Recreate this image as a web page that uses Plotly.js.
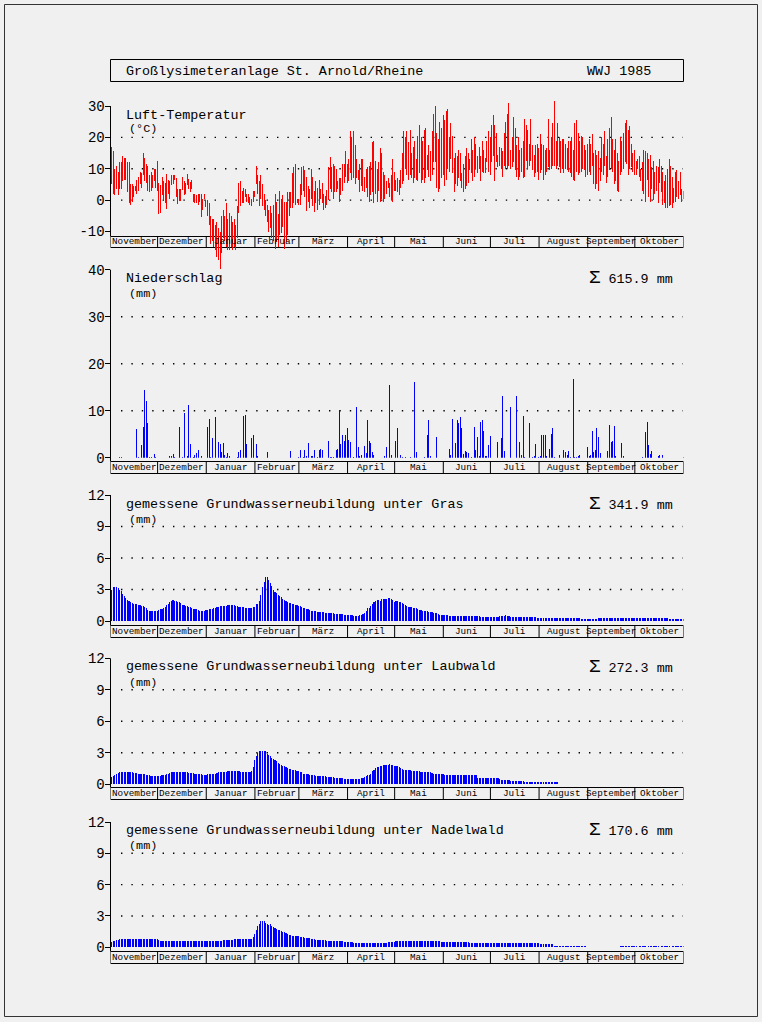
<!DOCTYPE html>
<html><head><meta charset="utf-8">
<script src="https://cdn.plot.ly/plotly-3.0.1.min.js"></script>
<style>html,body{margin:0;padding:0;background:#f0f0f0}</style>
</head><body><div id="chart" style="width:762px;height:1022px"></div>
<script>
// ---------------- DATA ----------------
const monthLabels = ['November','Dezember','Januar','Februar','März','April','Mai','Juni','Juli','August','September','Oktober'];
const monthDays = [30,31,31,28,31,30,31,30,31,31,30,31];

// daily max / min air temperature (°C), 1 Nov 1984 - 31 Oct 1985
const tmax = [
17,15.5,10,11,9,12,12,14,13.5,13.5,12,12,5,5,4.5,4.5,6.5,7.5,9,8.5,15,13.5,11.5,11,8,9,8,10,10,12.5,
5.5,4.8,7.5,6,5.5,8.2,6.4,6,8,8,8,7,3.7,3.7,3.7,7.5,6,5.5,8.3,6.7,5.7,6.4,2,2,1.5,2,1.8,1.8,0.5,1.8,0,
0,-1,-5,-6,-6,-8,-7,-9,-10,-5,-3,-5,-1,-6,-4,-5,-7,-6,-8,-2,5.5,6,3,4,3.5,2,2,1,0.5,3,3,
11,8,6,8,5,2,0,-1.5,-3,-2,-4,-1.5,2,-0.5,-4.5,3,0.5,1.5,-0.5,-0.5,2.5,2.5,2.5,8.5,10.5,11.5,0.5,0.5,
5,10.7,11,9.5,7.5,4.6,3.7,10,7.5,3,6,4,6.4,3.7,5.5,2,1.2,3.2,10.5,13.6,10.7,11.5,11,10,6,7,7,11.5,11.5,15.5,11.5,
13,22,20,22,17.5,13,9.5,11.5,13,13,7.5,10,10.5,11,12,18.5,19,12.5,10,12,16.5,15,9,8,6,7,5.5,8,13.2,9,
6.5,7,6.5,9.5,15,22,20,22,18.5,22.5,15,17,19,13,20.5,24,20,19,22.5,23,14.5,17.5,15.5,22,27.5,30,21.5,19.5,25,23,27,
25.5,28.5,29,20,24.5,20.5,13.5,15,14,16,15,8.5,11.5,14,16.5,15,13,19.5,16,20,18,14,17,14,19,16,13.5,19,22,20,
24,27,24,21.5,14.5,17,16.5,15.5,21.5,25,27.5,31,16,20,26.5,23,17.5,20,16,16.5,19,26,24,22.5,18,26,17.5,14.5,17.5,18,16.5,
21,18,17.5,16,16.5,26,16,20,24.5,31.5,19,24.5,20,19,19.5,19.5,18,16.5,19,19,20,16,24.5,25.5,21.5,19,20.5,20,17.5,16,18,
19.5,18,21,15,16,14.5,15.5,13.5,20,18,22,14,19.5,23,26.5,19.5,16,19.5,15,12.5,20,19,21.5,24.5,25.5,22.5,23.5,18,15,16,
12.5,13,14,10,12,16,15.5,15,13,14.5,10.5,12.5,9,11,10.5,13,11,9,6,8,10,13,11,7.5,4,9,9.5,6,9,3.5,3
];
const tmin = [
5,2,1.5,3.5,1.5,3.5,3.5,6,6.5,6.5,2.5,-1,-1.5,-0.5,1,3,2,3,5,4,8,6,5.5,3,2.5,3,4,6,4,3,
-4.3,-4.2,1.6,0,-1,-2.7,1.8,0.3,4.8,5.3,6.5,1,-1.1,-0.3,-0.3,3.2,1.6,2,4.8,3.7,2.7,3.7,-0.5,-1,-1,-1.6,-0.5,-5.3,-3.2,0.5,-2.1,
-5,-8,-14,-13,-15,-16,-18,-19,-22,-17,-12,-13,-15,-16,-16,-15,-16,-15,-16,-12,-4,-2,-1,-1,1,-0.5,-1,-1.5,-2,-0.5,1,
5,2,-2,0.5,-2,-3,-5,-7,-10,-9,-12,-13,-15.5,-13.5,-15,-11,-10.5,-8.5,-15.5,-13.5,-11,-5,-2.5,-2.5,-1,-1.5,-1,-1.5,
-1.6,1.5,3,1,-3.5,-0.5,-2.5,0.5,-2,-3.7,-1,-3,-1.5,0.5,-1,-3,-2.5,-1.7,0,3.5,2.5,0.5,2.5,2.5,3.5,-0.5,1.5,3,5.5,7.5,5.5,
6,8.5,6.5,7,5,7,6.5,2.5,4.5,3,2.5,4,1,-0.5,1.5,2.5,-1,2,-0.5,3,-0.5,0.5,-0.5,0.5,2,4,1,0,-0.5,3,
3,2.5,1.5,4,5,6,10,8,6.5,8,7,5.5,7,6.5,6,8.5,5.5,6.5,5.5,7,9.5,7.5,6,8,12,12,4,2.5,3.5,7,8,
4.5,6.5,10,9,13,8.5,2.5,5,4.5,7,6,4,2.5,3.5,4.5,5.5,9.5,8.5,6,7.5,10,8.5,10,6,9,8.5,8.5,12,9,8,
12,14,6,12,10.5,11,10,7.5,11,10,10,11,10,10.5,12,9.5,7.5,6.5,7.5,9,7,7.5,12.5,10,11,12.5,9.5,7.5,8.5,9,6.5,
8.5,9.5,6.5,8,9,10.5,9.5,10,11,11,10,11,10.5,8.5,10,8.5,10,9.5,9,8.5,7.5,6.5,6,9,8,8.5,9,10,9.5,7.5,8,
9,8,11,5,3.5,5,3,6,9,8,11,5.5,7.5,9.5,10,9,5,6,3,2.5,8,9,10,12,11.5,8,10,10.5,9,8,
8,10,7.5,6,3,2,-0.5,6.5,1,-0.5,3.5,0,2,3,-1,5.5,2.5,-1.5,-1,-2.5,-2.5,-2,-1.5,-2.5,-1,-0.5,1,0.5,1.5,-0.5,0.5
];

// daily precipitation (mm): day index (0 = 1 Nov) and amount
const precipDay = [
3,5,6,7,16,17,19,20,21,22,23,24,25,27,28,
34,37,38,39,40,43,45,46,48,49,50,52,53,54,55,57,
61,62,63,64,66,68,69,70,71,72,73,74,75,80,81,82,84,85,86,89,90,
92,93,99,114,
119,120,122,123,124,125,127,128,129,131,132,133,134,138,139,140,141,143,144,145,146,147,148,149,150,
151,152,154,156,157,158,159,161,162,163,164,165,166,167,174,175,177,178,
181,182,184,185,187,190,193,194,199,201,202,203,207,
215,216,217,219,220,221,222,223,224,225,226,227,229,231,232,233,234,235,236,237,238,239,240,241,
246,248,249,250,254,258,260,261,262,263,266,268,269,270,272,
273,274,275,276,277,279,280,281,282,285,288,289,290,291,292,294,295,296,297,298,
303,304,305,306,307,308,309,310,311,316,317,318,319,320,321,325,326,
338,340,341,342,343,344,348,349,351,364
];
const precipMm = [
0.1,0.2,0.2,0.1,6.1,0.3,2.7,6.5,14.5,12.2,7.5,0.3,0.2,0.8,0.2,
0.1,0.5,0.4,0.8,0.2,6.5,0.3,9.6,0.5,11.3,2.9,0.2,0.6,1.0,1.6,0.4,
6.5,8.2,0.3,4.2,8.8,3.5,2.9,1.2,3.1,0.7,0.3,1.0,0.4,0.2,1.2,1.6,9.0,9.2,2.9,4.2,4.8,
2.9,0.5,1.2,1.4,
0.3,1.6,0.3,1.8,0.4,3.1,0.4,0.5,1.8,0.3,1.6,2.0,1.8,3.7,0.3,0.3,0.3,1.8,2.0,10.3,2.9,5.0,3.7,4.8,6.3,
3.8,3.5,0.2,10.9,2.3,0.5,0.6,2.5,1.0,8.0,3.7,3.1,1.2,0.7,0.4,2.3,15.6,0.7,
3.7,6.3,0.6,0.3,0.3,0.3,16.2,1.2,0.3,5.0,8.0,0.5,4.4,
2.0,0.6,8.4,3.1,8.0,7.5,8.8,6.3,0.9,1.4,1.3,1.0,0.2,6.7,1.8,4.4,0.5,7.7,8.0,5.8,0.5,0.5,2.7,4.6,
3.3,4.2,13.2,1.4,10.9,13.2,3.5,0.7,9.0,0.3,7.5,0.3,0.5,2.9,0.3,
0.5,5.0,4.8,4.8,0.4,2.0,5.2,6.3,0.3,0.7,1.8,1.2,0.6,1.4,0.3,16.8,0.3,0.2,0.5,0.7,
2.3,0.4,0.6,5.8,1.2,1.8,6.3,4.4,1.0,1.4,7.1,3.5,3.7,6.9,0.4,3.1,0.4,
0.3,5.6,7.7,2.7,0.8,1.4,0.4,0.7,0.7,0.3
];

// daily measured groundwater recharge (mm)
const gwGras = [
3.0,3.2,3.25,3.2,3.1,3.0,2.9,2.6,2.4,2.2,2.0,1.9,1.8,1.7,1.65,1.6,1.6,1.55,1.5,1.45,1.4,1.3,1.2,1.05,1.0,1.0,1.0,1.0,1.0,0.95,
1.05,1.1,1.15,1.2,1.35,1.5,1.65,1.8,1.95,2.0,1.95,1.9,1.85,1.8,1.7,1.55,1.5,1.45,1.4,1.35,1.3,1.2,1.15,1.1,1.1,1.05,1.0,1.0,0.95,1.0,1.05,
1.05,1.1,1.1,1.15,1.2,1.25,1.3,1.35,1.4,1.4,1.45,1.45,1.45,1.5,1.5,1.5,1.55,1.5,1.45,1.45,1.35,1.3,1.3,1.3,1.25,1.2,1.2,1.25,1.25,1.3,1.35,
1.6,1.6,1.9,2.5,3.2,3.7,4.2,4.2,3.9,3.6,3.3,3.0,2.8,2.65,2.5,2.35,2.25,2.1,2.0,1.9,1.85,1.75,1.7,1.65,1.6,1.55,1.5,1.45,
1.4,1.35,1.25,1.2,1.15,1.1,1.05,1.0,1.0,0.95,0.95,0.9,0.9,0.85,0.85,0.85,0.8,0.8,0.8,0.75,0.75,0.75,0.7,0.7,0.7,0.65,0.65,0.65,0.6,0.6,0.6,
0.55,0.55,0.55,0.5,0.5,0.5,0.5,0.55,0.6,0.65,0.8,1.0,1.2,1.25,1.4,1.6,1.8,1.9,2.0,2.0,1.95,2.05,2.1,2.1,2.1,2.15,2.2,2.1,2.0,1.85,
1.9,1.9,1.85,1.8,1.7,1.6,1.5,1.4,1.35,1.3,1.3,1.25,1.2,1.2,1.15,1.05,1.05,1.0,1.0,0.95,0.95,0.9,0.85,0.85,0.8,0.8,0.75,0.7,0.6,0.6,0.55,
0.55,0.55,0.55,0.5,0.5,0.5,0.5,0.5,0.5,0.5,0.5,0.5,0.5,0.5,0.5,0.45,0.45,0.45,0.45,0.45,0.45,0.45,0.45,0.4,0.4,0.4,0.4,0.4,0.4,0.4,
0.4,0.4,0.4,0.4,0.4,0.45,0.45,0.5,0.5,0.55,0.5,0.45,0.4,0.35,0.35,0.35,0.35,0.35,0.35,0.35,0.35,0.35,0.35,0.35,0.35,0.35,0.35,0.35,0.35,0.3,0.3,
0.3,0.3,0.3,0.3,0.3,0.3,0.3,0.3,0.3,0.3,0.3,0.3,0.3,0.3,0.3,0.3,0.3,0.3,0.3,0.3,0.3,0.3,0.3,0.3,0.3,0.3,0.2,0.2,0.2,0.2,0.2,
0.2,0.2,0.2,0.2,0.2,0.2,0.25,0.25,0.25,0.25,0.25,0.25,0.25,0.25,0.25,0.25,0.25,0.25,0.25,0.25,0.25,0.25,0.25,0.25,0.25,0.25,0.25,0.25,0.25,0.25,
0.25,0.25,0.25,0.25,0.25,0.25,0.3,0.3,0.3,0.3,0.3,0.3,0.3,0.3,0.3,0.3,0.3,0.3,0.3,0.3,0.3,0.2,0.2,0.2,0.2,0.2,0.2,0.2,0.2,0.2,0.2
];
const gwLaub = [
0.7,0.8,0.9,1.0,1.05,1.1,1.15,1.15,1.15,1.15,1.15,1.1,1.1,1.1,1.05,1.05,1.05,1.0,1.0,1.0,0.95,0.95,0.9,0.9,0.85,0.8,0.8,0.8,0.8,0.8,
0.8,0.8,0.85,0.85,0.9,0.95,1.0,1.05,1.1,1.1,1.1,1.1,1.1,1.1,1.1,1.1,1.1,1.1,1.1,1.05,1.05,1.05,1.05,1.0,1.0,1.0,0.95,0.95,0.9,0.9,0.9,
0.95,0.95,0.95,0.95,1.0,1.0,1.05,1.1,1.1,1.1,1.15,1.15,1.15,1.2,1.2,1.2,1.2,1.2,1.2,1.2,1.2,1.15,1.15,1.15,1.15,1.15,1.15,1.15,1.2,1.6,2.3,
2.7,2.95,3.1,3.15,3.15,3.15,3.1,2.9,2.8,2.7,2.5,2.4,2.3,2.15,2.0,1.9,1.8,1.75,1.7,1.6,1.5,1.45,1.4,1.35,1.3,1.3,1.25,1.2,
1.15,1.1,1.0,1.0,0.95,0.95,0.9,0.9,0.85,0.85,0.8,0.8,0.8,0.8,0.75,0.75,0.75,0.7,0.7,0.65,0.65,0.65,0.6,0.6,0.6,0.55,0.55,0.55,0.5,0.5,0.5,
0.5,0.5,0.5,0.5,0.5,0.5,0.5,0.5,0.55,0.6,0.7,0.8,0.85,0.9,1.0,1.2,1.35,1.5,1.6,1.65,1.7,1.75,1.8,1.85,1.85,1.85,1.9,1.85,1.8,1.75,
1.75,1.7,1.6,1.5,1.4,1.35,1.35,1.3,1.3,1.3,1.25,1.25,1.25,1.25,1.2,1.2,1.15,1.1,1.1,1.1,1.1,1.1,1.1,1.05,1.0,1.0,1.0,1.0,1.0,0.95,0.95,
0.9,0.9,0.9,0.9,0.9,0.9,0.9,0.9,0.9,0.9,0.9,0.85,0.85,0.85,0.85,0.85,0.85,0.85,0.85,0.85,0.85,0.6,0.6,0.6,0.55,0.55,0.55,0.55,0.55,0.55,
0.55,0.55,0.55,0.55,0.55,0.5,0.4,0.4,0.4,0.4,0.4,0.4,0.3,0.3,0.3,0.3,0.3,0.3,0.3,0.3,0.25,0.2,0.2,0.2,0.2,0.2,0.2,0.2,0.2,0.2,0.2,
0.2,0.2,0.2,0.2,0.2,0.2,0.2,0.2,0.2,0.2,0.2,0.2,0,0,0,0,0,0,0,0,0,0,0,0,0,0,0,0,0,0,0,
0,0,0,0,0,0,0,0,0,0,0,0,0,0,0,0,0,0,0,0,0,0,0,0,0,0,0,0,0,0,
0,0,0,0,0,0,0,0,0,0,0,0,0,0,0,0,0,0,0,0,0,0,0,0,0,0,0,0,0,0,0
];
const gwNadel = [
0.5,0.6,0.65,0.7,0.7,0.75,0.75,0.8,0.8,0.8,0.8,0.8,0.8,0.8,0.8,0.8,0.8,0.8,0.8,0.8,0.8,0.8,0.8,0.75,0.75,0.75,0.75,0.75,0.75,0.75,
0.7,0.65,0.6,0.6,0.6,0.6,0.6,0.6,0.6,0.6,0.6,0.6,0.6,0.6,0.6,0.6,0.6,0.6,0.6,0.6,0.6,0.6,0.6,0.6,0.6,0.6,0.6,0.6,0.6,0.6,0.6,
0.6,0.6,0.6,0.6,0.6,0.6,0.6,0.6,0.6,0.65,0.7,0.7,0.7,0.7,0.7,0.7,0.7,0.75,0.8,0.8,0.8,0.8,0.8,0.8,0.8,0.8,0.8,0.8,0.8,1.0,1.3,
1.7,2.0,2.2,2.55,2.5,2.5,2.3,2.2,2.1,2.2,2.0,1.9,1.85,1.8,1.7,1.65,1.55,1.5,1.45,1.4,1.3,1.2,1.15,1.1,1.1,1.05,1.05,1.05,
1.0,0.95,0.95,0.9,0.9,0.85,0.85,0.8,0.75,0.75,0.7,0.7,0.7,0.7,0.7,0.7,0.7,0.65,0.6,0.6,0.6,0.6,0.6,0.6,0.6,0.6,0.6,0.6,0.55,0.55,0.55,
0.55,0.55,0.5,0.45,0.45,0.45,0.45,0.45,0.45,0.45,0.45,0.45,0.45,0.45,0.45,0.45,0.45,0.45,0.45,0.45,0.45,0.45,0.45,0.45,0.45,0.55,0.55,0.55,0.55,0.55,
0.6,0.6,0.6,0.65,0.65,0.65,0.65,0.65,0.65,0.65,0.65,0.65,0.65,0.65,0.65,0.65,0.6,0.6,0.6,0.6,0.6,0.6,0.6,0.6,0.6,0.6,0.6,0.6,0.6,0.5,0.5,
0.5,0.5,0.5,0.5,0.5,0.5,0.5,0.5,0.5,0.5,0.5,0.5,0.5,0.5,0.5,0.5,0.45,0.45,0.45,0.45,0.45,0.45,0.45,0.45,0.45,0.45,0.45,0.45,0.45,0.45,
0.45,0.45,0.4,0.4,0.4,0.4,0.4,0.4,0.4,0.4,0.4,0.4,0.4,0.4,0.4,0.4,0.4,0.4,0.4,0.4,0.4,0.4,0.4,0.4,0.4,0.4,0.4,0.4,0.4,0.4,0.4,
0.3,0.3,0.3,0.3,0.3,0.3,0.3,0.3,0.3,0.1,0.1,0.1,0.1,0.1,0.1,0.1,0.1,0.1,0.1,0.1,0.1,0.1,0.1,0.1,0.1,0.1,0.1,0.1,0.1,0.1,0,
0,0,0,0,0,0,0,0,0,0,0,0,0,0,0,0,0,0,0,0,0.1,0.1,0.1,0.1,0.1,0.1,0.1,0.1,0.1,0.1,
0.1,0,0.1,0.1,0.1,0.1,0.1,0,0.1,0.1,0.1,0.1,0.1,0.1,0.1,0,0.1,0.1,0.1,0.1,0.1,0.1,0,0.1,0.1,0.1,0.1,0.1,0.1,0.1,0.1
];

const titleText = 'Großlysimeteranlage St. Arnold/Rheine';
const yearText = 'WWJ 1985';
const panelTitles = ['Luft-Temperatur','Niederschlag','gemessene Grundwasserneubildung unter Gras','gemessene Grundwasserneubildung unter Laubwald','gemessene Grundwasserneubildung unter Nadelwald'];
const panelUnits = ['(°C)','(mm)','(mm)','(mm)','(mm)'];
const panelSums = [null,'615.9','341.9','272.3','170.6'];
const tempTicks = [-10,0,10,20,30];
const precipTicks = [0,10,20,30,40];
const gwTicks = [0,3,6,9,12];

// ---------------- LAYOUT GEOMETRY ----------------
const FONT = 'Liberation Mono, DejaVu Sans Mono, monospace';
const W = 762, H = 1022;
const px = v => v / W, py = v => 1 - v / H;
const X0 = 110.5, X1 = 683.5;
const nDays = monthDays.reduce((a,b)=>a+b,0);
const dayX = tmax.map((_, i) => i + 0.5);

const panels = [
  {ax:'y',  ticks:tempTicks,   vTop:30, vBot:-10, pTop:106.0, pBot:231.5, dTop:97,  dBot:276, grid:[0,10,20], strip:[236.5,247.5], titleY:115.5, unitY:129.5, sumY:null},
  {ax:'y2', ticks:precipTicks, vTop:40, vBot:0,   pTop:269.7, pBot:457.7, dTop:269.7, dBot:457.7, grid:[10,20,30], strip:[461.5,473.5], titleY:278.5, unitY:293.5, sumY:277.5},
  {ax:'y3', ticks:gwTicks,     vTop:12, vBot:0,   pTop:495.0, pBot:621.0, dTop:495.0, dBot:621.0, grid:[3,6,9], strip:[625.5,637.5], titleY:505, unitY:519.5, sumY:504.5},
  {ax:'y4', ticks:gwTicks,     vTop:12, vBot:0,   pTop:658.3, pBot:784.3, dTop:658.3, dBot:784.3, grid:[3,6,9], strip:[787.5,799.5], titleY:666.5, unitY:682.5, sumY:666.5},
  {ax:'y5', ticks:gwTicks,     vTop:12, vBot:0,   pTop:822.0, pBot:947.3, dTop:822.0, dBot:947.3, grid:[3,6,9], strip:[951.5,963.5], titleY:830.5, unitY:846, sumY:829.5}
];

const layout = {
  width: W, height: H, margin: {l:0, r:0, t:0, b:0},
  paper_bgcolor: '#f0f0f0', plot_bgcolor: 'rgba(0,0,0,0)',
  showlegend: false, bargap: 0, bargroupgap: 0, barmode: 'overlay',
  font: {family: FONT, size: 13, color: '#000'},
  xaxis: {domain: [px(X0), px(X1)], range: [0, nDays], visible: false, fixedrange: true, anchor: 'y'},
  shapes: [], annotations: []
};
const shapes = layout.shapes, ann = layout.annotations;

panels.forEach((p, i) => {
  const scale = (p.pBot - p.pTop) / (p.vTop - p.vBot);
  const rTop = p.vTop + (p.pTop - p.dTop) / scale;
  const rBot = p.vBot - (p.dBot - p.pBot) / scale;
  const key = i === 0 ? 'yaxis' : 'yaxis' + (i + 1);
  layout[key] = {
    domain: [py(p.dBot), py(p.dTop)], range: [rBot, rTop], anchor: 'x',
    tickvals: p.ticks, ticktext: p.ticks.map(String),
    ticks: 'outside', ticklen: 5, tickwidth: 1, tickcolor: '#000', ticklabelstandoff: -3,
    showline: false, showgrid: false, zeroline: false, fixedrange: true,
    tickfont: {family: FONT, size: 14, color: '#000'}
  };
  shapes.push({type:'line', xref:'paper', yref:'paper', x0:px(X0), x1:px(X0), y0:py(p.pTop), y1:py(p.strip[0]), line:{color:'#000', width:1}});
  p.grid.forEach(g => shapes.push({type:'line', xref:'paper', yref:p.ax, x0:px(121), x1:px(683), y0:g, y1:g, layer:'below',
    line:{color:'#000', width:1.4, dash:'1.4px,9px'}}));
  shapes.push({type:'rect', xref:'x', yref:'paper', x0:0, x1:nDays, y0:py(p.strip[1]), y1:py(p.strip[0]), layer:'below', line:{color:'#000', width:1}});
  let c = 0;
  monthDays.forEach((md, m) => {
    if (m > 0) shapes.push({type:'line', xref:'x', yref:'paper', x0:c, x1:c, y0:py(p.strip[1]), y1:py(p.strip[0]), layer:'below', line:{color:'#000', width:1}});
    ann.push({xref:'x', yref:'paper', x:c + md/2, y:py((p.strip[0]+p.strip[1])/2), text:monthLabels[m], showarrow:false,
      xanchor:'center', yanchor:'middle', font:{size:9.3}});
    c += md;
  });
  ann.push({xref:'paper', yref:'paper', x:px(124), y:py(p.titleY), text:panelTitles[i], showarrow:false, xanchor:'left', yanchor:'middle', font:{size:13.4}});
  ann.push({xref:'paper', yref:'paper', x:px(126.5), y:py(p.unitY), text:panelUnits[i], showarrow:false, xanchor:'left', yanchor:'middle', font:{size:11.8}});
  if (panelSums[i]) ann.push({xref:'paper', yref:'paper', x:px(675), y:py(p.sumY), text:'<span style="font-size:19px">Σ</span> ' + panelSums[i] + ' mm',
    showarrow:false, xanchor:'right', yanchor:'middle', font:{size:13.4}});
});

shapes.push({type:'rect', xref:'paper', yref:'paper', x0:px(4.5), x1:px(757.5), y0:py(1016.5), y1:py(4.5), line:{color:'#333', width:1}});
shapes.push({type:'rect', xref:'paper', yref:'paper', x0:px(110.5), x1:px(683.5), y0:py(81.5), y1:py(59.5), line:{color:'#000', width:1}});
ann.push({xref:'paper', yref:'paper', x:px(124), y:py(71), text:titleText, showarrow:false, xanchor:'left', yanchor:'middle', font:{size:13.4}});
ann.push({xref:'paper', yref:'paper', x:px(653), y:py(71), text:yearText, showarrow:false, xanchor:'right', yanchor:'middle', font:{size:13.4}});

// ---------------- TRACES ----------------
const barCommon = {type:'bar', xaxis:'x', hoverinfo:'skip', width:0.637};
const traces = [
  Object.assign({}, barCommon, {x: dayX, base: tmin, y: tmax.map((v, i) => v - tmin[i]), yaxis:'y',
    marker:{color:'rgba(255,0,0,0.999)', line:{width:0}}}),
  Object.assign({}, barCommon, {x: precipDay.map(d => d + 0.5), y: precipMm, yaxis:'y2',
    marker:{color:'rgba(0,0,255,0.999)', line:{width:0}}}),
  Object.assign({}, barCommon, {x: dayX, y: gwGras, yaxis:'y3', width:0.72, marker:{color:'rgba(0,0,255,0.999)', line:{width:0}}}),
  Object.assign({}, barCommon, {x: dayX, y: gwLaub, yaxis:'y4', width:0.72, marker:{color:'rgba(0,0,255,0.999)', line:{width:0}}}),
  Object.assign({}, barCommon, {x: dayX, y: gwNadel, yaxis:'y5', width:0.72, marker:{color:'rgba(0,0,255,0.999)', line:{width:0}}})
];

const lens = [tmax, tmin, gwGras, gwLaub, gwNadel].map(a => a.length);
if (lens.some(l => l !== nDays) || precipDay.length !== precipMm.length) {
  ann.push({xref:'paper', yref:'paper', x:0.5, y:0.005, text:'LEN ' + lens.join(',') + ' P ' + precipDay.length + '/' + precipMm.length,
    showarrow:false, font:{size:10, color:'red'}});
}

Plotly.newPlot('chart', traces, layout, {displayModeBar:false, responsive:false});
</script>
</body></html>
